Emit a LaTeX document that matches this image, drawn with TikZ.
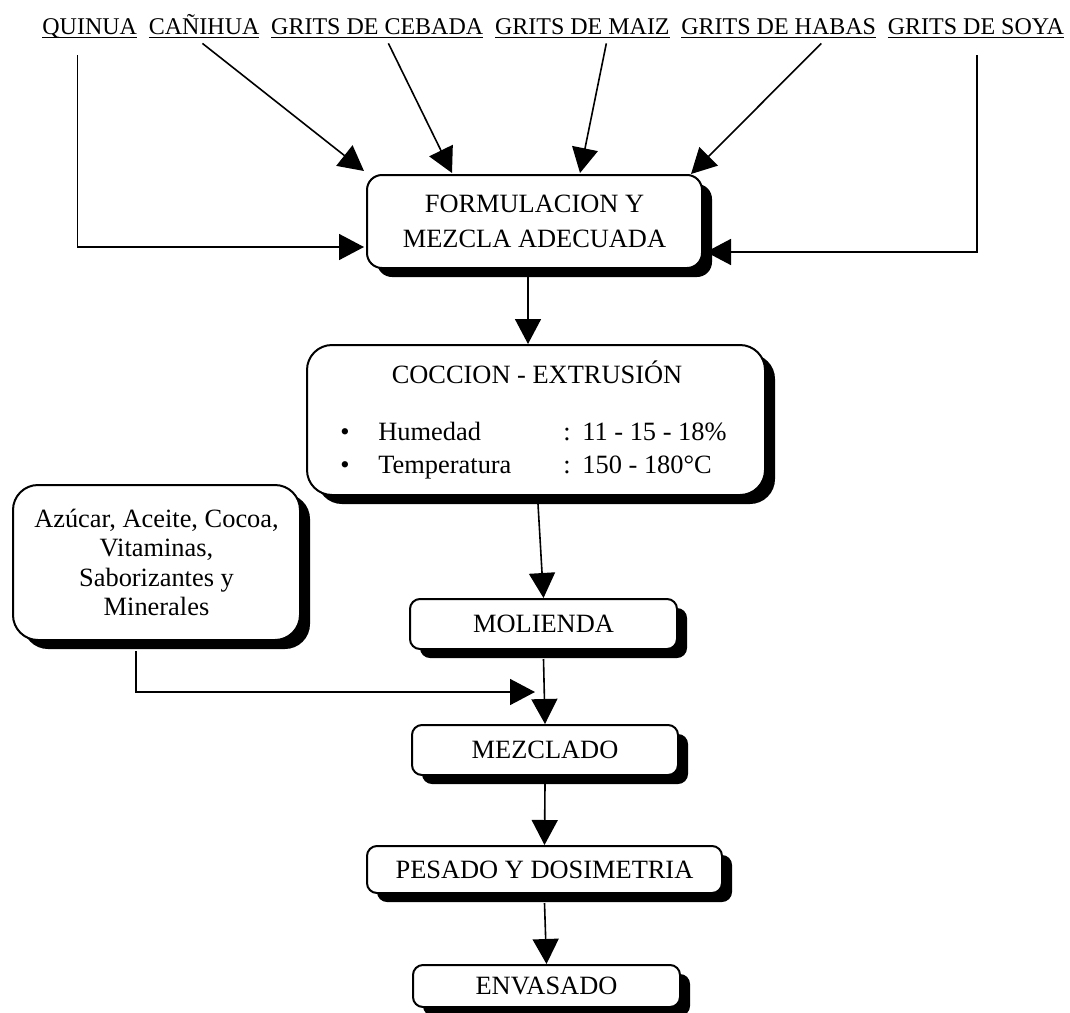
\documentclass[tikz,border=0pt]{standalone}
\usepackage{fontspec}
\setmainfont{Liberation Serif}
\usetikzlibrary{arrows.meta,shadows,calc}
\newcommand\ulabel[1]{\setbox0\hbox{#1}\rlap{\rule[-2.2pt]{\wd0}{0.9pt}}\box0}
\begin{document}
\begin{tikzpicture}[x=0.5pt,y=-0.5pt,
  lab/.style={anchor=base west, inner sep=0pt, font=\fontsize{12}{14}\selectfont},
  box/.style={draw, line width=1pt, fill=white, rounded corners=#1, inner sep=0pt, align=center,
    font=\fontsize{13.2}{15}\selectfont,
    drop shadow={shadow xshift=5pt, shadow yshift=-4.5pt, fill=black, opacity=1}},
  box/.default=5pt,
  arr/.style={line width=0.8pt, -{Triangle[length=12.5pt,width=13pt]}},
  txt/.style={anchor=base west, inner sep=0pt, font=\fontsize{13.2}{15}\selectfont}]
\useasboundingbox (0,0) rectangle (1070,1012);

% top labels
\node[lab] (qui) at (42,34) {\ulabel{QUINUA}};
\node[lab] (can) at (148.4,34) {\ulabel{CAÑIHUA}};
\node[lab] (ceb) at (270.8,34) {\ulabel{GRITS DE CEBADA}};
\node[lab] (mai) at (494.6,34) {\ulabel{GRITS DE MAIZ}};
\node[lab] (hab) at (681,34) {\ulabel{GRITS DE HABAS}};
\node[lab] (soy) at (887.5,34) {\ulabel{GRITS DE SOYA}};

% boxes
\node[box=7.5pt, minimum width=167.5pt, minimum height=46.5pt,
  font=\fontsize{13.2}{17.5}\selectfont] (formu) at (534.5,221.5) {FORMULACION Y\\MEZCLA ADECUADA};
\node[box=12.5pt, minimum width=229pt, minimum height=75pt] (cocc) at (536,420) {};
\node[txt, anchor=base] (ctit) at (537,383) {COCCION - EXTRUSIÓN};
\node[txt, anchor=base] (b1) at (345,440) {•};
\node[txt] (h1) at (378,440) {Humedad};
\node[txt] (c1) at (563,440) {:};
\node[txt] (v1) at (582,440) {11 - 15 - 18\%};
\node[txt, anchor=base] (b2) at (345,473) {•};
\node[txt] (h2) at (378,473) {Temperatura};
\node[txt] (c2) at (563,473) {:};
\node[txt] (v2) at (582,473) {150 - 180°C};

\node[box=12.5pt, minimum width=143.5pt, minimum height=77.5pt,
  font=\fontsize{13.2}{14.65}\selectfont] (azu) at (156.5,562.5)
  {Azúcar, Aceite, Cocoa,\\Vitaminas,\\Saborizantes y\\Minerales};
\node[box, minimum width=133.5pt, minimum height=25pt] (mol) at (543.5,624) {MOLIENDA};
\node[box, minimum width=133pt, minimum height=25pt] (mez) at (545,750) {MEZCLADO};
\node[box, minimum width=177.5pt, minimum height=23.5pt] (pes) at (544.5,869.5) {PESADO Y DOSIMETRIA};
\node[box, minimum width=133.5pt, minimum height=21pt] (env) at (546.5,986) {ENVASADO};

% connectors
\draw[arr] ([xshift=-6.15pt,yshift=-8.3pt]qui.south) |- ([xshift=-1pt,yshift=-12.75pt]formu.west);
\draw[arr] ([xshift=-0.85pt,yshift=-2.3pt]can.south) -- ([xshift=-1pt,yshift=1.5pt]formu.north west);
\draw[arr] ([xshift=5.6pt,yshift=-2.3pt]ceb.south) -- ([xshift=-41.25pt,yshift=0.5pt]formu.north);
\draw[arr] ([xshift=12pt,yshift=-2.3pt]mai.south) -- ([xshift=22.75pt,yshift=0.5pt]formu.north);
\draw[arr] ([xshift=21.3pt,yshift=-2.3pt]hab.south) -- ([xshift=-6pt]formu.north east);
\draw[arr] ([xshift=0.6pt,yshift=-8.3pt]soy.south) |- ([xshift=1.5pt,yshift=-15.25pt]formu.east);
\draw[arr] ([xshift=-3.25pt]formu.south) -- ([xshift=-4pt]cocc.north);
\draw[arr] ([xshift=1pt,yshift=-4pt]cocc.south) -- (mol.north);
\draw[arr] ([yshift=-4.5pt]mol.south) -- (mez.north);
\draw[arr] ([xshift=-10.25pt,yshift=-5pt]azu.south) |- ([xshift=-5pt,yshift=16pt]mez.north);
\draw[arr] ([yshift=-4pt]mez.south) -- (pes.north);
\draw[arr] ([yshift=-4.5pt]pes.south) -- (env.north);
\end{tikzpicture}
\end{document}
